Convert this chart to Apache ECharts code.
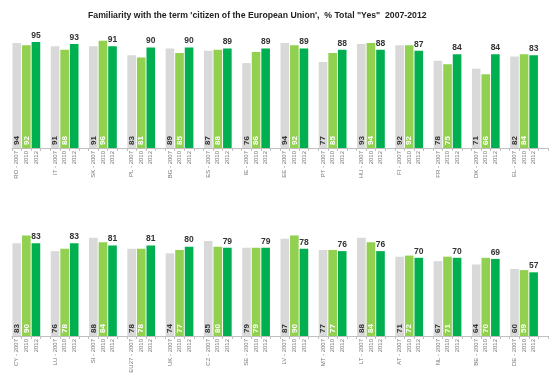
<!DOCTYPE html>
<html><head><meta charset="utf-8">
<script src="https://cdn.jsdelivr.net/npm/echarts@6/dist/echarts.min.js"></script>
<style>html,body{margin:0;padding:0;background:#fff}#c{width:550px;height:389px}</style>
</head><body><div id="c"></div>
<script>
const titleText = "Familiarity with the term 'citizen of the European Union',  % Total \"Yes\"  2007-2012";
const years = ['2007', '2010', '2012'];

const countries1 = ['RO','IT','SK','PL','BG','ES','IE','EE','PT','HU','FI','FR','DK','EL'];
const v2007_1 = [94,91,91,83,89,87,76,94,77,93,92,78,71,82];
const v2010_1 = [92,88,96,81,85,88,86,92,85,94,92,75,66,84];
const v2012_1 = [95,93,91,90,90,89,89,89,88,88,87,84,84,83];

const countries2 = ['CY','LU','SI','EU27','UK','CZ','SE','LV','MT','LT','AT','NL','BE','DE'];
const v2007_2 = [83,76,88,78,74,85,79,87,77,88,71,67,64,60];
const v2010_2 = [90,78,84,78,77,80,79,90,77,84,72,71,70,59];
const v2012_2 = [83,83,81,81,80,79,79,78,76,76,70,70,69,57];

const colors = ['#d9d9d9', '#92d050', '#00b050'];
const FONT = 'Liberation Sans, Arial, sans-serif';

function buildCats(countries) {
  const cats = [];
  countries.forEach(c => {
    years.forEach(y => cats.push(c + '|' + y));
    cats.push(c + '|gap');
  });
  return cats;
}
function catLabel(v) {
  const [c, y] = v.split('|');
  if (y === 'gap') return '';
  if (y === years[0]) return c + ' - ' + y;
  return y;
}
function buildData(v7, v10, v12) {
  const out = [];
  for (let i = 0; i < v7.length; i++) {
    const vals = [v7[i], v10[i], v12[i]];
    vals.forEach((v, k) => {
      const item = { value: v, itemStyle: { color: colors[k] } };
      if (k < 2) {
        item.label = {
          show: true, position: 'insideBottom', rotate: 90, align: 'left', verticalAlign: 'middle',
          distance: 3, fontSize: 8, fontWeight: 'bold', fontFamily: FONT,
          color: k === 0 ? '#333' : '#fff'
        };
      } else {
        item.label = {
          show: true, position: 'top', distance: 2, fontSize: 8.5, fontWeight: 'bold',
          fontFamily: FONT, color: '#333'
        };
      }
      out.push(item);
    });
    out.push({ value: null });
  }
  return out;
}

const chart = echarts.init(document.getElementById('c'), null, { renderer: 'canvas' });
const grids = [
  { left: 12, right: 2, top: 36.3, height: 111.7 },
  { left: 12, right: 2, top: 224.3, height: 111.7 }
];
function xAxis(idx, countries) {
  return {
    type: 'category', gridIndex: idx, data: buildCats(countries),
    axisLine: { lineStyle: { color: '#bfbfbf', width: 1 } },
    axisTick: { show: true, length: 3, lineStyle: { color: '#bfbfbf' } },
    axisLabel: { interval: 0, rotate: 90, fontSize: 6, color: '#777', margin: 3, fontFamily: FONT, formatter: catLabel }
  };
}
function yAxis(idx) {
  return { type: 'value', gridIndex: idx, min: 0, max: 100, show: false, splitLine: { show: false } };
}
chart.setOption({
  animation: false,
  title: { text: titleText, left: 83, top: 6, textStyle: { fontSize: 8.7, fontWeight: 'bold', color: '#222', fontFamily: FONT } },
  grid: grids,
  xAxis: [xAxis(0, countries1), xAxis(1, countries2)],
  yAxis: [yAxis(0), yAxis(1)],
  series: [
    { type: 'bar', xAxisIndex: 0, yAxisIndex: 0, barCategoryGap: '10%', data: buildData(v2007_1, v2010_1, v2012_1) },
    { type: 'bar', xAxisIndex: 1, yAxisIndex: 1, barCategoryGap: '10%', data: buildData(v2007_2, v2010_2, v2012_2) }
  ]
});
</script></body></html>
